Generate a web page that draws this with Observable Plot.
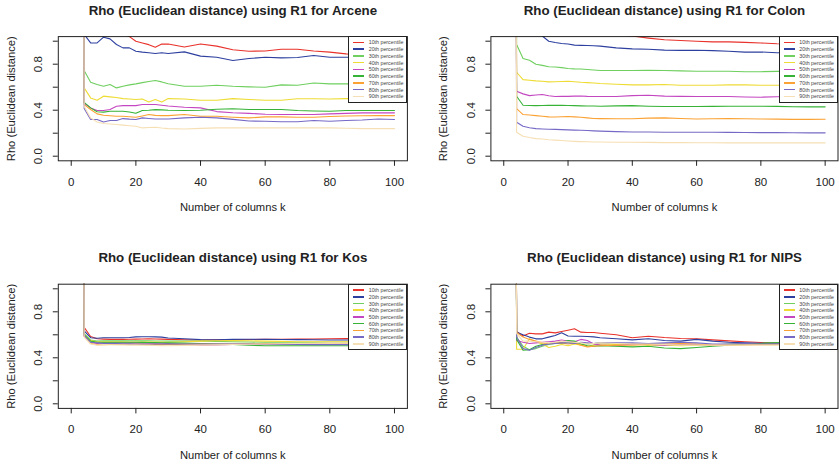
<!DOCTYPE html>
<html><head><meta charset="utf-8">
<script src="https://cdn.jsdelivr.net/npm/d3@7"></script>
<script src="https://cdn.jsdelivr.net/npm/@observablehq/plot@0.6"></script>
<style>
body{margin:0;background:#fff;}
#wrap{position:relative;width:839px;height:466px;overflow:hidden;font-family:"Liberation Sans",Arial,Helvetica,sans-serif;}
.panel{position:absolute;}
.legend{position:absolute;background:#fff;border:1px solid #222;box-sizing:border-box;}
.legend .sw{position:absolute;height:1.5px;width:11.3px;}
.legend .tx{position:absolute;font-size:5.3px;line-height:6px;color:#444;white-space:nowrap;}
</style>
</head><body>
<div id="wrap"></div>
<script>
// k values (number of columns)
const K = [4,6,8,10,12,14,16,18,20,22,24,26,28,30,35,40,45,50,55,60,65,70,75,80,85,90,95,100];
// every series starts off-scale just before k = 4 (vertical line at the left)
const START_K = 2, START_RHO = 20;

const SERIES = ["10th percentile","20th percentile","30th percentile","40th percentile","50th percentile",
                "60th percentile","70th percentile","80th percentile","90th percentile"];
const COLORS = ["#e8322b","#2d3f9f","#6fcf5f","#eedc34","#c447c2","#36b336","#fba234","#7569c6","#f6dfb4"];

const ARCENE = [
 [1.25,1.2,1.16,1.13,1.10,1.08,1.06,1.04,1.00,0.985,0.97,0.948,0.975,0.975,0.95,0.975,0.957,0.925,0.913,0.915,0.93,0.93,0.915,0.905,0.89,0.885,0.88,0.878],
 [1.06,0.985,0.985,1.035,1.02,0.971,0.942,0.942,0.913,0.905,0.9,0.893,0.899,0.893,0.907,0.87,0.86,0.832,0.849,0.861,0.855,0.858,0.875,0.861,0.861,0.86,0.86,0.86],
 [0.745,0.643,0.623,0.608,0.623,0.594,0.608,0.62,0.629,0.64,0.65,0.658,0.646,0.63,0.608,0.608,0.617,0.608,0.603,0.6,0.62,0.617,0.637,0.629,0.629,0.625,0.625,0.625],
 [0.594,0.507,0.487,0.522,0.516,0.51,0.501,0.497,0.493,0.498,0.472,0.493,0.472,0.501,0.498,0.487,0.487,0.501,0.493,0.487,0.487,0.5,0.5,0.498,0.501,0.5,0.5,0.5],
 [0.46,0.42,0.397,0.397,0.406,0.435,0.44,0.44,0.44,0.449,0.45,0.449,0.443,0.437,0.426,0.42,0.388,0.378,0.372,0.365,0.362,0.362,0.362,0.368,0.372,0.377,0.377,0.377],
 [0.468,0.42,0.386,0.383,0.391,0.391,0.391,0.385,0.374,0.397,0.4,0.405,0.403,0.4,0.398,0.4,0.408,0.412,0.406,0.406,0.406,0.397,0.393,0.391,0.397,0.397,0.397,0.397],
 [0.449,0.406,0.368,0.356,0.352,0.348,0.348,0.343,0.339,0.35,0.362,0.355,0.353,0.353,0.362,0.348,0.348,0.339,0.333,0.342,0.342,0.339,0.339,0.345,0.35,0.352,0.353,0.353],
 [0.414,0.319,0.319,0.298,0.31,0.31,0.327,0.322,0.319,0.333,0.328,0.324,0.324,0.324,0.333,0.339,0.333,0.32,0.306,0.304,0.3,0.3,0.31,0.304,0.31,0.315,0.324,0.319],
 [0.435,0.333,0.298,0.284,0.28,0.275,0.27,0.265,0.26,0.246,0.25,0.252,0.245,0.24,0.236,0.242,0.246,0.246,0.246,0.246,0.246,0.246,0.246,0.246,0.243,0.24,0.24,0.24]
];
const COLON = [
 [1.4,1.3,1.25,1.2,1.17,1.15,1.13,1.12,1.1,1.09,1.08,1.07,1.065,1.06,1.055,1.045,1.027,1.012,1.006,1.0,0.994,0.994,0.99,0.985,0.978,0.975,0.972,0.97],
 [1.3,1.2,1.12,1.08,1.045,1.0,0.988,0.98,0.975,0.966,0.964,0.963,0.96,0.957,0.942,0.933,0.93,0.922,0.92,0.921,0.918,0.912,0.905,0.906,0.9,0.897,0.895,0.895],
 [0.971,0.85,0.835,0.8,0.79,0.778,0.775,0.77,0.762,0.759,0.758,0.754,0.75,0.745,0.745,0.745,0.747,0.745,0.742,0.739,0.739,0.739,0.735,0.735,0.738,0.74,0.74,0.74],
 [0.73,0.666,0.66,0.655,0.652,0.646,0.648,0.65,0.652,0.648,0.643,0.64,0.637,0.632,0.625,0.62,0.62,0.623,0.617,0.617,0.617,0.62,0.62,0.617,0.617,0.617,0.617,0.617],
 [0.565,0.542,0.527,0.532,0.536,0.525,0.519,0.52,0.52,0.522,0.524,0.52,0.519,0.519,0.519,0.527,0.53,0.522,0.52,0.519,0.519,0.519,0.515,0.513,0.517,0.519,0.519,0.519],
 [0.521,0.443,0.441,0.44,0.441,0.442,0.443,0.442,0.441,0.44,0.438,0.437,0.436,0.435,0.438,0.44,0.435,0.432,0.432,0.432,0.433,0.435,0.435,0.435,0.433,0.43,0.429,0.429],
 [0.414,0.362,0.358,0.353,0.348,0.342,0.341,0.343,0.345,0.342,0.339,0.333,0.328,0.327,0.325,0.326,0.331,0.333,0.328,0.324,0.326,0.327,0.325,0.324,0.322,0.32,0.32,0.321],
 [0.295,0.26,0.248,0.24,0.237,0.235,0.233,0.231,0.229,0.227,0.226,0.223,0.22,0.218,0.214,0.211,0.21,0.208,0.208,0.208,0.208,0.207,0.206,0.205,0.205,0.204,0.203,0.203],
 [0.208,0.174,0.162,0.153,0.149,0.143,0.14,0.136,0.132,0.129,0.127,0.125,0.124,0.123,0.121,0.121,0.12,0.118,0.118,0.117,0.117,0.116,0.116,0.116,0.116,0.116,0.116,0.116]
];
const KOS = [
 [0.665,0.585,0.565,0.562,0.56,0.56,0.56,0.561,0.562,0.563,0.565,0.564,0.562,0.56,0.557,0.555,0.556,0.558,0.559,0.56,0.561,0.562,0.563,0.565,0.567,0.57,0.571,0.572],
 [0.635,0.575,0.57,0.575,0.575,0.575,0.575,0.576,0.582,0.583,0.583,0.582,0.58,0.572,0.565,0.558,0.556,0.56,0.561,0.56,0.559,0.558,0.557,0.555,0.555,0.555,0.555,0.555],
 [0.61,0.555,0.545,0.548,0.548,0.548,0.548,0.548,0.548,0.547,0.547,0.546,0.546,0.545,0.545,0.545,0.543,0.54,0.538,0.535,0.535,0.535,0.535,0.535,0.535,0.535,0.535,0.535],
 [0.6,0.55,0.54,0.54,0.54,0.54,0.539,0.538,0.538,0.537,0.537,0.536,0.536,0.535,0.54,0.545,0.548,0.55,0.548,0.545,0.543,0.54,0.54,0.54,0.54,0.54,0.54,0.54],
 [0.59,0.535,0.525,0.53,0.53,0.53,0.53,0.53,0.53,0.53,0.528,0.527,0.526,0.525,0.515,0.51,0.512,0.515,0.518,0.52,0.52,0.52,0.518,0.515,0.517,0.518,0.52,0.52],
 [0.6,0.545,0.535,0.535,0.535,0.535,0.535,0.535,0.535,0.534,0.533,0.532,0.531,0.53,0.528,0.525,0.52,0.515,0.51,0.505,0.505,0.505,0.505,0.505,0.505,0.505,0.505,0.505],
 [0.585,0.525,0.515,0.515,0.516,0.517,0.518,0.519,0.52,0.519,0.518,0.517,0.516,0.515,0.518,0.52,0.52,0.52,0.522,0.525,0.522,0.52,0.52,0.52,0.52,0.52,0.52,0.52],
 [0.595,0.535,0.53,0.525,0.524,0.523,0.522,0.521,0.52,0.52,0.52,0.52,0.52,0.52,0.52,0.52,0.52,0.52,0.519,0.518,0.517,0.515,0.515,0.515,0.515,0.515,0.515,0.515],
 [0.58,0.52,0.51,0.515,0.513,0.512,0.511,0.51,0.51,0.509,0.508,0.507,0.506,0.505,0.508,0.51,0.512,0.515,0.518,0.52,0.522,0.525,0.527,0.53,0.53,0.53,0.53,0.53]
];
const NIPS = [
 [0.63,0.59,0.614,0.608,0.608,0.623,0.617,0.629,0.64,0.652,0.623,0.62,0.62,0.614,0.6,0.575,0.588,0.576,0.568,0.566,0.556,0.547,0.539,0.533,0.533,0.53,0.53,0.53],
 [0.623,0.6,0.58,0.565,0.565,0.58,0.594,0.617,0.59,0.588,0.588,0.585,0.582,0.575,0.565,0.556,0.565,0.55,0.545,0.56,0.545,0.535,0.53,0.527,0.527,0.527,0.527,0.527],
 [0.58,0.5,0.47,0.48,0.5,0.515,0.525,0.525,0.535,0.53,0.52,0.52,0.525,0.53,0.52,0.515,0.52,0.515,0.51,0.51,0.51,0.52,0.525,0.525,0.53,0.53,0.53,0.53],
 [0.475,0.475,0.565,0.54,0.52,0.49,0.5,0.515,0.505,0.52,0.51,0.5,0.51,0.52,0.515,0.52,0.51,0.51,0.505,0.51,0.515,0.515,0.52,0.52,0.52,0.52,0.52,0.52],
 [0.55,0.535,0.525,0.53,0.535,0.54,0.545,0.555,0.545,0.54,0.56,0.55,0.52,0.51,0.505,0.52,0.515,0.51,0.52,0.515,0.51,0.515,0.52,0.52,0.525,0.525,0.525,0.525],
 [0.56,0.465,0.47,0.5,0.515,0.525,0.53,0.535,0.55,0.545,0.52,0.505,0.5,0.505,0.5,0.495,0.5,0.485,0.48,0.49,0.5,0.51,0.52,0.525,0.53,0.53,0.535,0.535],
 [0.62,0.58,0.56,0.545,0.53,0.525,0.53,0.53,0.52,0.53,0.51,0.495,0.5,0.505,0.51,0.51,0.515,0.52,0.525,0.52,0.51,0.51,0.51,0.515,0.515,0.52,0.52,0.52],
 [0.58,0.48,0.465,0.49,0.51,0.52,0.525,0.53,0.53,0.525,0.535,0.53,0.525,0.53,0.53,0.53,0.525,0.53,0.535,0.53,0.52,0.52,0.525,0.52,0.52,0.525,0.525,0.525],
 [0.61,0.545,0.545,0.54,0.535,0.53,0.535,0.545,0.54,0.535,0.53,0.52,0.525,0.53,0.525,0.52,0.52,0.515,0.51,0.51,0.51,0.51,0.51,0.51,0.51,0.51,0.51,0.51]
];

const X_TICKS = [0,20,40,60,80,100];
const Y_TICKS = [0,0.2,0.4,0.6,0.8,1.0];
const Y_LABELS = [0,0.4,0.8];
const X_LABEL = "Number of columns k";
const Y_LABEL = "Rho (Euclidean distance)";
const NAMES = ["Arcene","Colon","Kos","NIPS"];
const VALUES = [ARCENE, COLON, KOS, NIPS];

// layout of the 2x2 grid
const LAYOUT = [
 {left:0,   top:0,   width:420, mL:57.8, mR:13.1, mT:36.1, mB:72.7},
 {left:420, top:0,   width:419, mL:70.4, mR:1.5,  mT:36.1, mB:72.7},
 {left:0,   top:233, width:420, mL:57.8, mR:13.1, mT:50.7, mB:58.1},
 {left:420, top:233, width:419, mL:70.4, mR:1.5,  mT:50.7, mB:58.1}
];
const FONT = '"Liberation Sans", Arial, Helvetica, sans-serif';
const wrap = document.getElementById("wrap");

NAMES.forEach((name, p) => {
  const L = LAYOUT[p];
  const rows = [];
  SERIES.forEach((s, i) => {
    rows.push({k: START_K, rho: START_RHO, s});
    K.forEach((k, j) => rows.push({k, rho: VALUES[p][i][j], s}));
  });
  const chart = Plot.plot({
    width: L.width, height: 233,
    marginLeft: L.mL, marginRight: L.mR, marginTop: L.mT, marginBottom: L.mB,
    x: {domain: [-4, 104]},
    y: {domain: [-0.04, 1.04]},
    color: {domain: SERIES, range: COLORS},
    style: {fontFamily: FONT, color: "#222", background: "transparent", overflow: "visible"},
    marks: [
      Plot.line(rows, {x: "k", y: "rho", z: "s", stroke: "s", strokeWidth: 1.1, clip: true}),
      Plot.frame({stroke: "#222"}),
      Plot.axisX({ticks: X_TICKS, tickSize: 5.5, tickPadding: 11.4, label: null, fontSize: 11.5}),
      Plot.axisY({ticks: Y_TICKS, tickSize: 5, tickFormat: () => "", label: null}),
      Plot.text(Y_LABELS, {y: d => d, text: d => d.toFixed(1), frameAnchor: "left", textAnchor: "middle", lineAnchor: "middle", dx: -20, rotate: -90, fontSize: 11.5, fill: "#222"}),
      Plot.text([X_LABEL], {frameAnchor: "bottom", textAnchor: "middle", lineAnchor: "middle", dy: 47, fontSize: 11.2, fill: "#222"}),
      Plot.text([Y_LABEL], {frameAnchor: "left", textAnchor: "middle", lineAnchor: "middle", dx: -47, rotate: -90, fontSize: 11.2, fill: "#222"}),
      Plot.text([`Rho (Euclidean distance) using R1 for ${name}`], {frameAnchor: "top", textAnchor: "middle", lineAnchor: "middle", dy: -26, fontWeight: "bold", fontSize: 13.3, fill: "#222"})
    ]
  });
  const holder = document.createElement("div");
  holder.className = "panel";
  holder.style.left = L.left + "px";
  holder.style.top = L.top + "px";
  holder.appendChild(chart);
  wrap.appendChild(holder);

  // legend at the top-right corner of the plot box
  const boxRight = L.left + L.width - L.mR;
  const boxTop = L.top + L.mT;
  const lg = document.createElement("div");
  lg.className = "legend";
  const lw = 59, lh = 66.5;
  lg.style.left = (boxRight - lw) + "px";
  lg.style.top = boxTop + "px";
  lg.style.width = lw + "px";
  lg.style.height = lh + "px";
  SERIES.forEach((s, i) => {
    const cy = 6.4 + i * 6.72;
    const sw = document.createElement("div");
    sw.className = "sw";
    sw.style.left = "4.2px";
    sw.style.top = (cy - 0.75 - 1) + "px";
    sw.style.background = COLORS[i];
    lg.appendChild(sw);
    const tx = document.createElement("div");
    tx.className = "tx";
    tx.style.left = "19.8px";
    tx.style.top = (cy - 3 - 1) + "px";
    tx.textContent = s;
    lg.appendChild(tx);
  });
  wrap.appendChild(lg);
});
</script>
</body></html>
